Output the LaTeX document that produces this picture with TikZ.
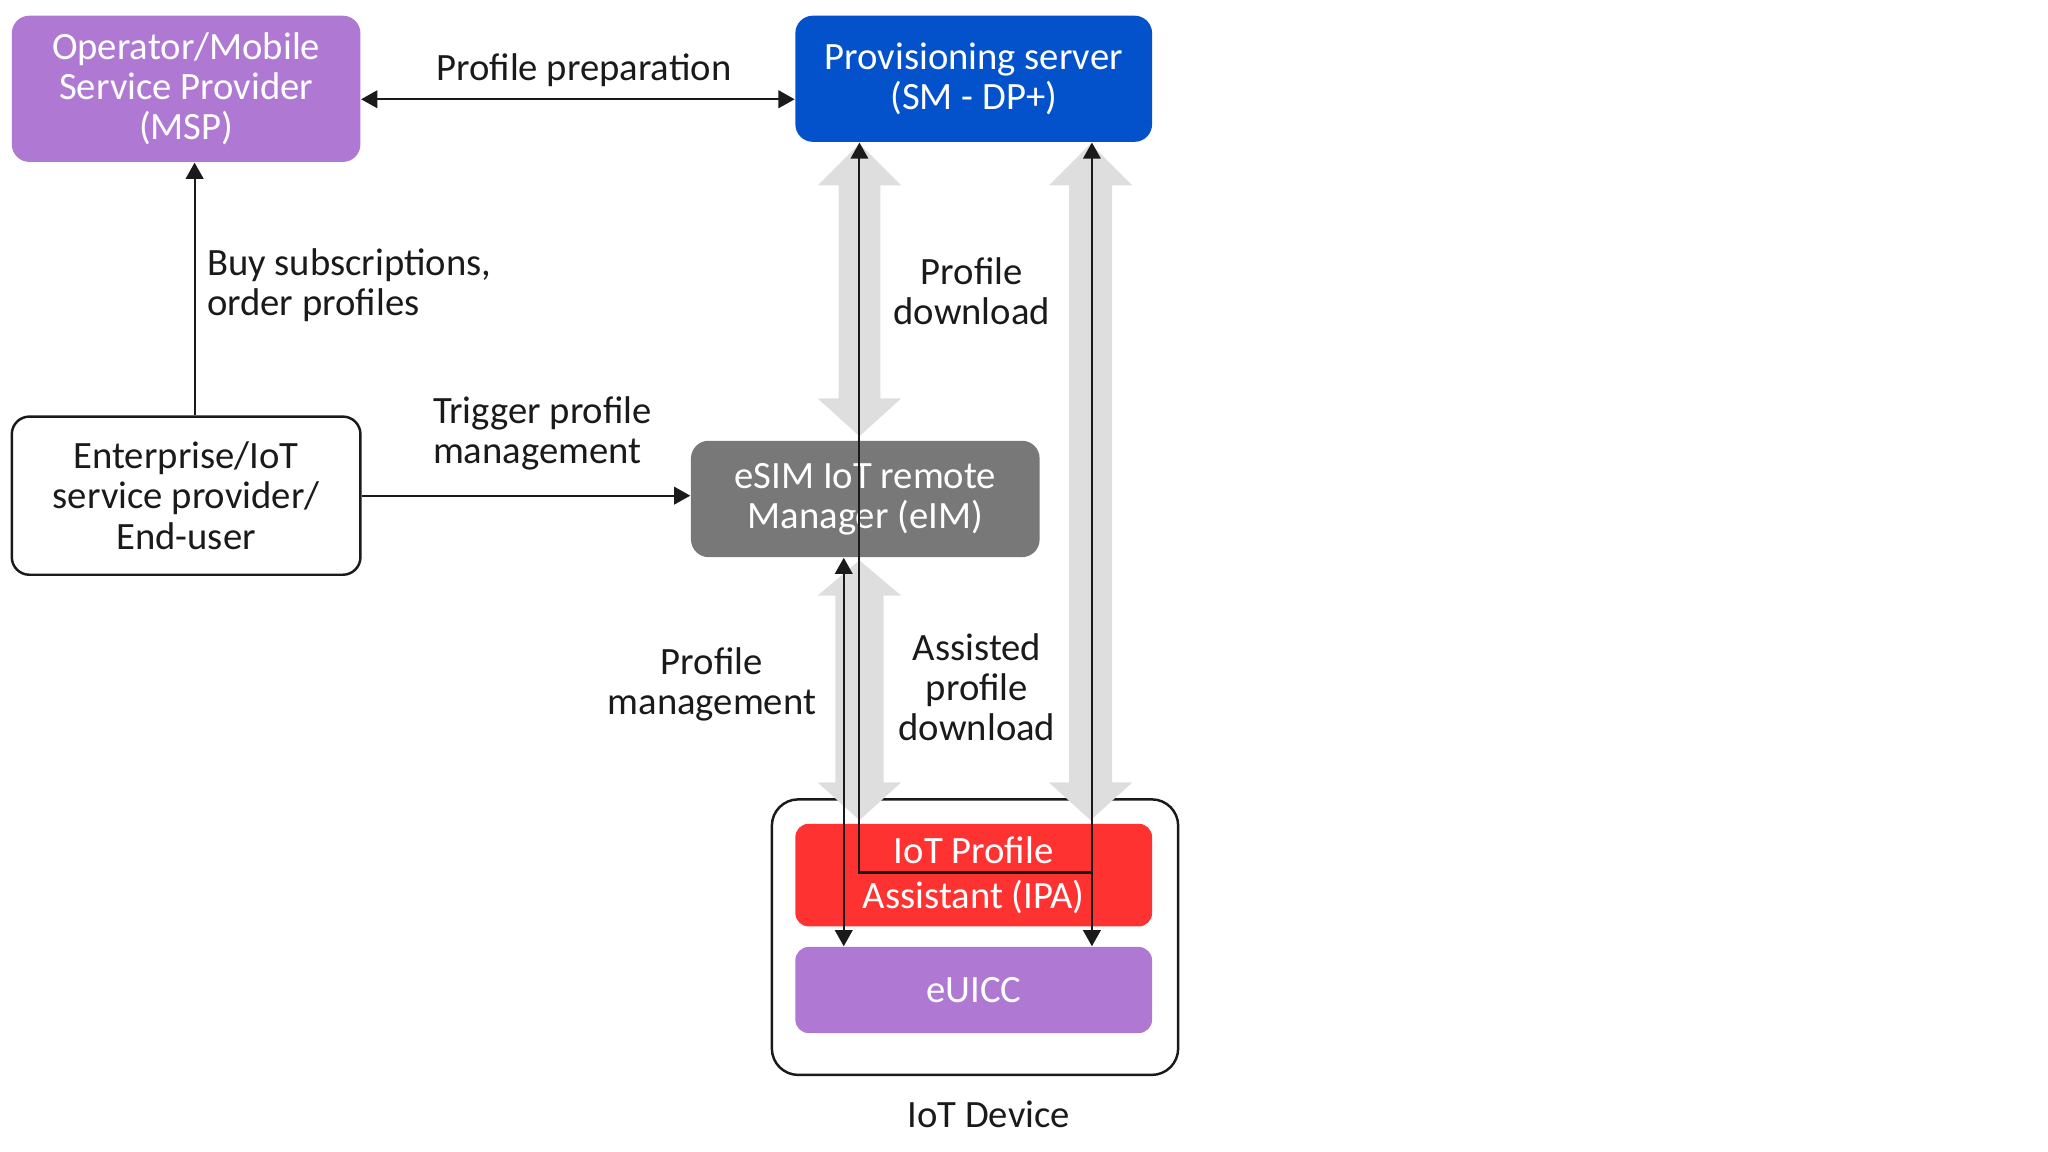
\documentclass[tikz,border=0pt]{standalone}
\usepackage{fontspec}
\setmainfont{Carlito}
\usetikzlibrary{arrows.meta,calc}
\definecolor{msppurple}{HTML}{AF78D2}
\definecolor{provblue}{HTML}{0352CC}
\definecolor{eimgray}{HTML}{787878}
\definecolor{ipared}{HTML}{FF3232}
\definecolor{lightarrow}{HTML}{DEDEDE}
\definecolor{inkblack}{HTML}{1A1A1A}
\newcommand\grayarrow[7]{%
  \fill[lightarrow] (#1,#2) -- ({#1+#7},#3) -- ({#1+#6},#3) -- ({#1+#6},#4) -- ({#1+#7},#4)
   -- (#1,#5) -- ({#1-#7},#4) -- ({#1-#6},#4) -- ({#1-#6},#3) -- ({#1-#7},#3) -- cycle;}
\begin{document}
\begin{tikzpicture}[x=0.013061cm, y=-0.013061cm,
  basefont/.style={font=\fontsize{11}{11.4}\selectfont},
  txt/.style={basefont, text=inkblack, align=center, inner sep=0pt},
  box/.style={basefont, rounded corners=5pt, inner sep=0pt, align=center, text=white},
  widebox/.style={box, minimum width=99.2pt},
  provbox/.style={box, minimum width=101.5pt},
  conn/.style={draw=inkblack, line width=0.6pt},
  tip/.style={conn, -{Triangle[width=5pt,length=4.6pt]}},
  tips/.style={conn, {Triangle[width=5pt,length=4.6pt]}-{Triangle[width=5pt,length=4.6pt]}},
  rtip/.style={conn, {Triangle[width=5pt,length=4.6pt]}-}]
\useasboundingbox (0,0) rectangle (1568,882);

% main boxes
\node[widebox, fill=msppurple, minimum height=41.6pt] (msp) at (142.5,68)
  {Operator/Mobile\\Service Provider\\(MSP)};
\node[provbox, fill=provblue, minimum height=35.9pt] (prov) at (745.5,60.3)
  {Provisioning server\\(SM - DP+)};
\node[widebox, draw=inkblack, line width=0.7pt, fill=white, text=inkblack, minimum height=45pt] (ent) at (142.5,379.5)
  {Enterprise/IoT\\service provider/\\End-user};
\node[widebox, fill=eimgray, minimum height=33.1pt] (eim) at (662.5,382)
  {eSIM IoT remote\\Manager (eIM)};
\node[draw=inkblack, line width=0.7pt, rounded corners=7.5pt, minimum width=115.6pt, minimum height=78.4pt, inner sep=0pt] (dev) at (746.5,717.5) {};

% light double arrows
\grayarrow{658}{110}{142}{305}{334}{16}{32}
\grayarrow{835}{110}{142}{599}{628}{16.5}{32}
\grayarrow{658}{429}{456}{599}{628}{18.5}{32}

\node[provbox, rounded corners=3.8pt, fill=ipared, minimum height=29.2pt, font=\fontsize{11}{13}\selectfont] (ipa) at (745.5,670)
  {IoT Profile\\Assistant (IPA)};
\node[provbox, rounded corners=3.8pt, fill=msppurple, minimum height=24.5pt] (euicc) at (745.5,758) {eUICC};

% labels
\node[txt] (lprep) at (447,54) {Profile preparation};
\node[txt, align=left, anchor=west] (lbuy) at (158,218) {Buy subscriptions,\\order profiles};
\node[txt, align=left, anchor=west] (ltrig) at (331,332) {Trigger profile\\management};
\node[txt] (ldl) at (744,223) {Profile\\download};
\node[txt] (lmgmt) at (545,524) {Profile\\management};
\node[txt] (lassist) at (748,526) {Assisted\\profile\\download};
\node[txt] (ldev) at (757,853) {IoT Device};

% helper coordinates
\coordinate (yprep) at (0,76);
\coordinate (xbuy) at (149,0);
\coordinate (jL) at (658,668);
\coordinate (jR) at (836,668);
\coordinate (xmg) at (646,0);

% connectors
\draw[tips] (msp.east |- yprep) -- (prov.west |- yprep);
\draw[tip] (ent.north -| xbuy) -- (msp.south -| xbuy);
\draw[tip] (ent.east) -- (ent.east -| eim.west);
\draw[rtip] (prov.south -| jL) -- (jL) -- (jR);
\draw[tips] (prov.south -| jR) -- (euicc.north -| jR);
\draw[tips] (eim.south -| xmg) -- (euicc.north -| xmg);
\end{tikzpicture}
\end{document}
